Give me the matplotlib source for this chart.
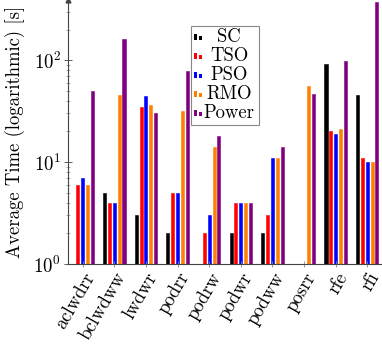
import numpy as np
import matplotlib.pyplot as plt
from matplotlib.patches import Rectangle

plt.rcParams['font.family'] = 'cmr10'
plt.rcParams['mathtext.fontset'] = 'cm'
plt.rcParams['axes.formatter.use_mathtext'] = True

# benchmark names and average times per memory model (nan = not run)
tests = ['aclwdrr', 'bclwdww', 'lwdwr', 'podrr', 'podrw',
         'podwr', 'podww', 'posrr', 'rfe', 'rfi']
sc = [np.nan, 5, 3, 2, np.nan, 2, 2, np.nan, 91, 46]
tso = [6, 4, 35, 5, 2, 4, 3, 1, 20, 11]
pso = [7, 4, 45, 5, 3, 4, 11, 1, 19, 10]
rmo = [6, 46, 36, 32, 14, 4, 11, 56, 21, 10]
power = [50, 160, 30, 78, 18, 4, 14, 47, 98, 370]

series = [('SC', sc, 'black'), ('TSO', tso, '#ff0000'), ('PSO', pso, '#0000ff'),
          ('RMO', rmo, '#ff8000'), ('Power', power, '#800080')]

W, H = 382, 344
fig = plt.figure(figsize=(W / 100, H / 100), dpi=100)
ax = fig.add_axes([68 / W, 80 / H, (W - 68) / W, 264 / H])

x = np.arange(len(tests))
bw = 0.095
step = 0.153
for i, (name, vals, col) in enumerate(series):
    ax.bar(x + (i - 2) * step, vals, bw, color=col, edgecolor=col,
           linewidth=0.4, bottom=0)

ax.set_yscale('log')
ax.set_ylim(1, 390)
ax.set_xlim(-0.465, 9.465)

axcol = '#444444'
for s in ['top', 'right']:
    ax.spines[s].set_visible(False)
for s in ['left', 'bottom']:
    ax.spines[s].set_color(axcol)
    ax.spines[s].set_linewidth(0.8)
# arrow at top of y axis
ax.plot([0], [1], marker='^', color=axcol, markersize=3.5,
        transform=ax.transAxes, clip_on=False)

ax.set_xticks(x)
ax.set_xticklabels(tests, rotation=60, ha='right', rotation_mode='anchor',
                   fontsize=13.5)
ax.tick_params(axis='x', direction='inout', length=4, width=0.6,
               color='#888888', pad=2)
ax.tick_params(axis='y', which='major', direction='inout', length=6,
               width=0.6, color=axcol, labelsize=13.5, pad=2)
ax.tick_params(axis='y', which='minor', direction='inout', length=3,
               width=0.5, color='#888888')
ax.set_ylabel('Average Time (logarithmic) [s]', fontsize=13.5, labelpad=6)


def px(xp, yp):
    return xp / W, 1 - yp / H


# legend drawn in pixel positions, text centred like the original
x0, y0 = px(191, 26)
x1, y1 = px(259, 125)
fig.add_artist(Rectangle((x0, y1), x1 - x0, y0 - y1, transform=fig.transFigure,
                         facecolor='white', edgecolor='#888888', linewidth=0.8))
rows = [37, 56, 75, 94, 113]
for (name, vals, col), yc in zip(series, rows):
    bx, by = px(194, yc + 3)
    fig.add_artist(Rectangle((bx, by), 3 / W, 6 / H, transform=fig.transFigure,
                             facecolor=col, edgecolor='none'))
    bx, by = px(199, yc + 3)
    fig.add_artist(Rectangle((bx, by), 3 / W, 4 / H, transform=fig.transFigure,
                             facecolor=col, edgecolor='none'))
    tx, ty = px(229, yc)
    fig.text(tx, ty, name, ha='center', va='center', fontsize=13.5)

fig.savefig('out.png', dpi=100)
